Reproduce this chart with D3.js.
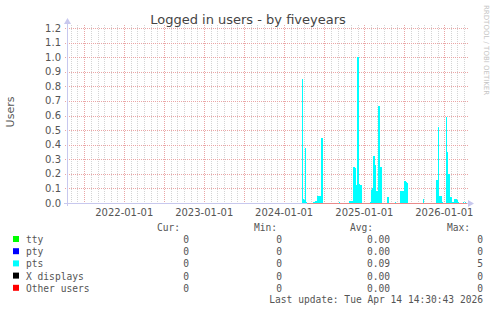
<!DOCTYPE html>
<html>
<head>
<meta charset="utf-8">
<script src="https://cdn.jsdelivr.net/npm/d3@7"></script>
<style>
  html, body { margin: 0; padding: 0; background: #fff; }
  svg { display: block; }
  text { font-family: "DejaVu Sans", sans-serif; }
  .mono { font-family: "DejaVu Sans Mono", monospace; }
</style>
</head>
<body>
<svg id="chart" width="497" height="312"></svg>
<script>
// ---- data ----
const titleText = "Logged in users - by fiveyears";
const startDate = "2021-04-14T14:30:43";
const endDate = "2026-04-14T14:30:43";
const dataKnownFrom = "2024-04-12"; // zero line drawn from here

const yTicks = [0, 0.1, 0.2, 0.3, 0.4, 0.5, 0.6, 0.7, 0.8, 0.9, 1.0, 1.1, 1.2];
const yearTicks = ["2022-01-01", "2023-01-01", "2024-01-01", "2025-01-01", "2026-01-01"];

// pts series (only non-zero rows, ~4.5 days each)
const ptsDates = [
  "2024-03-23", "2024-03-27", "2024-04-01", "2024-04-05", "2024-04-10",
  "2024-05-12", "2024-05-17", "2024-05-21", "2024-05-26", "2024-05-31",
  "2024-06-04", "2024-06-08", "2024-06-13", "2024-06-17", "2024-06-22",
  "2024-09-07",
  "2024-10-23", "2024-10-28", "2024-11-01", "2024-11-06", "2024-11-10",
  "2024-11-15", "2024-11-19", "2024-11-24", "2024-11-29", "2024-12-03",
  "2024-12-08", "2024-12-12", "2024-12-17",
  "2025-01-27", "2025-01-31", "2025-02-05", "2025-02-10", "2025-02-14",
  "2025-02-19", "2025-02-23", "2025-02-28", "2025-03-04", "2025-03-09",
  "2025-03-14", "2025-03-18",
  "2025-04-15", "2025-04-19", "2025-05-21",
  "2025-06-13", "2025-06-17", "2025-06-22", "2025-06-26", "2025-07-01",
  "2025-07-06", "2025-07-10", "2025-07-15",
  "2025-09-26",
  "2025-11-24", "2025-11-29", "2025-12-03", "2025-12-08", "2025-12-12",
  "2025-12-17", "2025-12-21",
  "2026-01-09", "2026-01-13", "2026-01-18", "2026-01-22", "2026-01-27",
  "2026-01-31", "2026-02-05", "2026-02-10", "2026-02-14", "2026-02-19",
  "2026-02-23", "2026-02-28", "2026-03-04", "2026-03-27", "2026-04-05"
];
const ptsValues = [
  0.85, 0.03, 0.02, 0.38, 0.01,
  0.01, 0.01, 0.015, 0.015, 0.045,
  0.05, 0.05, 0.05, 0.445, 0.445,
  0.01,
  0.015, 0.015, 0.015, 0.015, 0.25,
  0.245, 0.24, 0.125, 1.0, 1.0,
  0.13, 0.125, 0.125,
  0.01, 0.09, 0.1, 0.32, 0.32,
  0.26, 0.08, 0.08, 0.665, 0.665,
  0.25, 0.25,
  0.04, 0.04, 0.01,
  0.08, 0.08, 0.085, 0.085, 0.15,
  0.15, 0.145, 0.14,
  0.03,
  0.16, 0.16, 0.52, 0.045, 0.045,
  0.045, 0.01,
  0.59, 0.35, 0.2, 0.2, 0.04,
  0.04, 0.01, 0.01, 0.025, 0.025,
  0.025, 0.02, 0.01, 0.01, 0.01
];

const legendNames = ["tty", "pty", "pts", "X displays", "Other users"];
const legendColors = ["#00ff00", "#0000ff", "#00ffff", "#000000", "#ff0000"];
const legendCur = ["0", "0", "0", "0", "0"];
const legendMin = ["0", "0", "0", "0", "0"];
const legendAvg = ["0.00", "0.00", "0.09", "0.00", "0.00"];
const legendMax = ["0", "0", "5", "0", "0"];
const lastUpdate = "Last update: Tue Apr 14 14:30:43 2026";

// ---- layout ----
const svg = d3.select("#chart");
const parse = d3.isoParse;
const plotLeft = 67, plotRight = 467, plotTop = 28, plotBottom = 203;

const x = d3.scaleTime()
    .domain([parse(startDate), parse(endDate)])
    .range([plotLeft, plotRight]);
const y = d3.scaleLinear()
    .domain([0, 1.2])
    .range([plotBottom, plotTop]);

const grid = svg.append("g").attr("shape-rendering", "crispEdges");

// minor vertical grid, monthly
let months = d3.timeMonth.range(parse(startDate), parse(endDate));
grid.selectAll("line.minor").data(months).enter().append("line")
    .attr("x1", d => Math.round(x(d)) + 0.5).attr("x2", d => Math.round(x(d)) + 0.5)
    .attr("y1", plotTop - 3).attr("y2", plotBottom)
    .attr("stroke", "#d4d4d4").attr("stroke-dasharray", "1,1");

// major vertical grid, every 6 months
let halfYears = months.filter(d => d.getMonth() % 6 == 0);
grid.selectAll("line.major").data(halfYears).enter().append("line")
    .attr("x1", d => Math.round(x(d)) + 0.5).attr("x2", d => Math.round(x(d)) + 0.5)
    .attr("y1", plotTop - 3).attr("y2", plotBottom + 2)
    .attr("stroke", "#eaa6a6").attr("stroke-dasharray", "1,1");

// horizontal grid
grid.selectAll("line.h").data(yTicks).enter().append("line")
    .attr("x1", plotLeft - 2).attr("x2", plotRight + 1)
    .attr("y1", d => Math.round(y(d)) + 0.5).attr("y2", d => Math.round(y(d)) + 0.5)
    .attr("stroke", "#eaa6a6").attr("stroke-dasharray", "1,1");

// pts bars, one pixel column per row
let px = d => Math.round(x(parse(d)));
svg.append("g").attr("shape-rendering", "crispEdges")
    .selectAll("rect").data(ptsDates).enter().append("rect")
    .attr("x", d => px(d))
    .attr("width", 1)
    .attr("y", (d, i) => Math.round(y(ptsValues[i])))
    .attr("height", (d, i) => Math.round(y(0)) - Math.round(y(ptsValues[i])))
    .attr("fill", "#00ffff");

// axes
const axisColor = "#c8c8ee";
svg.append("line").attr("shape-rendering", "crispEdges")
    .attr("x1", plotLeft + 0.5).attr("x2", plotLeft + 0.5)
    .attr("y1", plotBottom + 3).attr("y2", plotTop - 5)
    .attr("stroke", axisColor);
svg.append("path").attr("d", `M${plotLeft - 3},${plotTop - 4} L${plotLeft + 4},${plotTop - 4} L${plotLeft + 0.5},${plotTop - 10} Z`)
    .attr("fill", axisColor);
svg.append("line").attr("shape-rendering", "crispEdges")
    .attr("x1", plotLeft - 3).attr("x2", plotRight + 3)
    .attr("y1", plotBottom + 0.5).attr("y2", plotBottom + 0.5)
    .attr("stroke", axisColor);
svg.append("path").attr("d", `M${plotRight + 1},${plotBottom - 3} L${plotRight + 1},${plotBottom + 4} L${plotRight + 7},${plotBottom + 0.5} Z`)
    .attr("fill", axisColor);

// zero line where data is known
svg.append("line").attr("shape-rendering", "crispEdges")
    .attr("x1", Math.round(x(parse(dataKnownFrom)))).attr("x2", plotRight)
    .attr("y1", plotBottom + 0.5).attr("y2", plotBottom + 0.5)
    .attr("stroke", "#ea8a8a");

// tick labels
svg.append("g").selectAll("text").data(yTicks).enter().append("text")
    .attr("x", 61).attr("y", d => y(d) + 3.5)
    .attr("text-anchor", "end")
    .attr("font-size", "10px").attr("fill", "#555")
    .text(d => d3.format(".1f")(d));

svg.append("g").selectAll("text").data(yearTicks).enter().append("text")
    .attr("x", d => x(parse(d)))
    .attr("y", 216)
    .attr("text-anchor", "middle")
    .attr("font-size", "10px").attr("fill", "#555")
    .text(d => d);

// title, axis label, watermark
svg.append("text").attr("x", 248).attr("y", 24)
    .attr("text-anchor", "middle").attr("font-size", "13px").attr("fill", "#444")
    .text(titleText);
svg.append("text").attr("transform", "translate(14,112) rotate(-90)")
    .attr("text-anchor", "middle").attr("font-size", "11px").attr("fill", "#555")
    .text("Users");
svg.append("text").attr("transform", "translate(484,5) rotate(90)")
    .attr("text-anchor", "start").attr("font-size", "7px").attr("fill", "#c4c4c4")
    .text("RRDTOOL / TOBI OETIKER");

// legend
const leg = svg.append("g").attr("class", "mono").attr("font-size", "9.6px").attr("fill", "#555");
const headers = [["Cur:", 180], ["Min:", 277], ["Avg:", 373], ["Max:", 470]];
leg.selectAll("text.h").data(headers).enter().append("text")
    .attr("class", "mono").attr("x", d => d[1]).attr("y", 231)
    .attr("text-anchor", "end").text(d => d[0]);

const rows = leg.selectAll("g.row").data(legendNames).enter().append("g")
    .attr("transform", (d, i) => `translate(0,${243 + i * 12.2})`);
rows.append("rect").attr("x", 13).attr("y", -7).attr("width", 6).attr("height", 6)
    .attr("fill", (d, i) => legendColors[i]);
rows.append("text").attr("class", "mono").attr("x", 26).attr("y", 0).text(d => d);
rows.append("text").attr("class", "mono").attr("x", 189).attr("y", 0).attr("text-anchor", "end").text((d, i) => legendCur[i]);
rows.append("text").attr("class", "mono").attr("x", 282).attr("y", 0).attr("text-anchor", "end").text((d, i) => legendMin[i]);
rows.append("text").attr("class", "mono").attr("x", 390).attr("y", 0).attr("text-anchor", "end").text((d, i) => legendAvg[i]);
rows.append("text").attr("class", "mono").attr("x", 483).attr("y", 0).attr("text-anchor", "end").text((d, i) => legendMax[i]);

leg.append("text").attr("class", "mono").attr("x", 483).attr("y", 303)
    .attr("text-anchor", "end").text(lastUpdate);
</script>
</body>
</html>
